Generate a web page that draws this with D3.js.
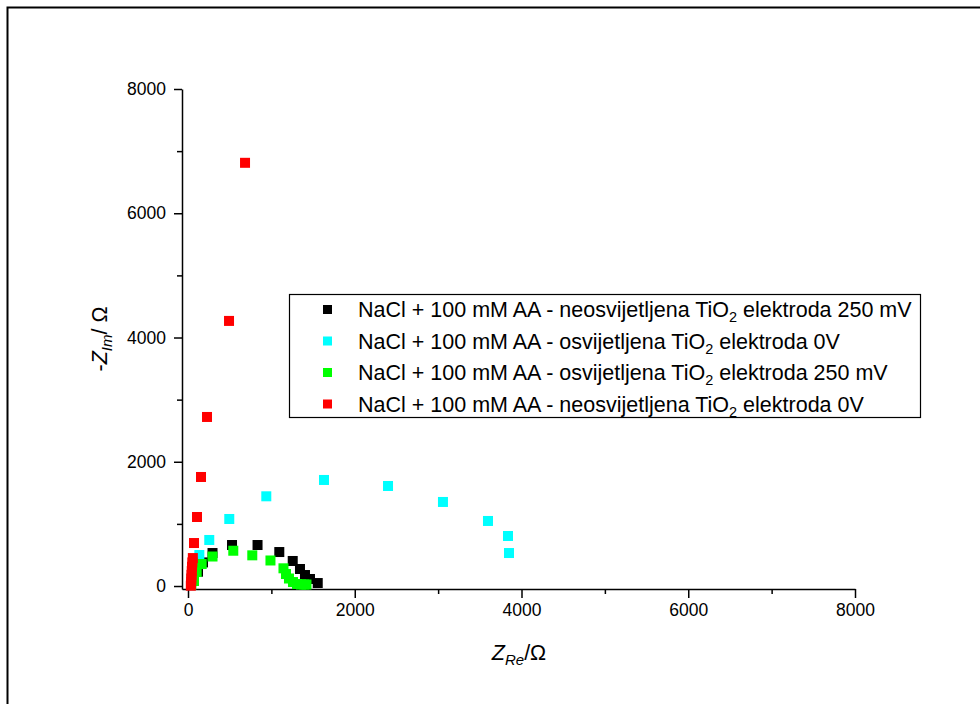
<!DOCTYPE html>
<html><head><meta charset="utf-8">
<script src="https://cdn.jsdelivr.net/npm/d3@7"></script>
<style>body{margin:0;background:#fff}svg{display:block;font-family:Arial,"Liberation Sans",sans-serif}</style>
</head><body>
<svg id="chart" width="980" height="704"></svg>
<script>
// Series data: [Z_Re (Ohm), -Z_Im (Ohm)]
const seriesNames = [
  "NaCl + 100 mM AA - neosvijetljena TiO|2| elektroda 250 mV",
  "NaCl + 100 mM AA - osvijetljena TiO|2| elektroda 0V",
  "NaCl + 100 mM AA - osvijetljena TiO|2| elektroda 250 mV",
  "NaCl + 100 mM AA - neosvijetljena TiO|2| elektroda 0V"
];
const seriesColors = ["#000000", "#00ffff", "#00ff00", "#ff0000"];
const blackData = [[60,90],[120,230],[180,380],[294,531],[528,660],[834,660],[1095,547],[1256,403],[1343,274],[1403,177],[1463,113],[1556,48]];
const cyanData = [[40,120],[80,300],[136,499],[255,741],[495,1079],[939,1444],[1631,1707],[2399,1610],[3058,1353],[3598,1047],[3838,805],[3850,531]];
const greenData = [[40,20],[72,81],[104,225],[164,354],[294,475],[543,568],[771,494],[989,411],[1145,285],[1175,193],[1211,121],[1259,64],[1307,32],[1355,24],[1395,24],[1421,24]];
const redData = [[34,5],[36,30],[38,70],[40,120],[42,180],[45,240],[48,310],[52,380],[58,450],[72,692],[108,1111],[156,1755],[228,2721],[492,4267],[684,6812]];
const allSeries = [blackData, cyanData, greenData, redData];
const majorTicks = [0, 2000, 4000, 6000, 8000];
const minorTicks = [1000, 3000, 5000, 7000];

const svg = d3.select("#chart");
svg.append("rect").attr("x", 0).attr("y", 0).attr("width", 980).attr("height", 704).attr("fill", "#fff");
// outer frame
svg.append("rect").attr("x", 7.5).attr("y", 7.5).attr("width", 1000).attr("height", 1000)
  .attr("fill", "none").attr("stroke", "#000").attr("stroke-width", 2);

const x = d3.scaleLinear().domain([-72, 8000]).range([182, 855]);
const y = d3.scaleLinear().domain([-48, 8000]).range([589, 89]);

svg.append("g").attr("transform", "translate(0,589)")
  .call(d3.axisBottom(x).tickValues(majorTicks).tickSize(9).tickSizeOuter(0).tickPadding(6).tickFormat(d3.format("d")));
svg.append("g").attr("transform", "translate(0,589)")
  .call(d3.axisBottom(x).tickValues(minorTicks).tickSize(5).tickSizeOuter(0).tickFormat(""))
  .select(".domain").remove();
svg.append("g").attr("transform", "translate(182,0)")
  .call(d3.axisLeft(y).tickValues(majorTicks).tickSize(8).tickSizeOuter(0).tickPadding(8).tickFormat(d3.format("d")));
svg.append("g").attr("transform", "translate(182,0)")
  .call(d3.axisLeft(y).tickValues(minorTicks).tickSize(5).tickSizeOuter(0).tickFormat(""))
  .select(".domain").remove();
svg.selectAll(".domain, .tick line").attr("stroke", "#000").attr("stroke-width", 1.5);
svg.selectAll(".tick text").attr("font-size", 17.5).attr("fill", "#000").attr("font-family", "Arial, 'Liberation Sans', sans-serif");

// points
const ms = 10;
allSeries.forEach((data, i) => {
  svg.append("g").selectAll("rect").data(data).join("rect")
    .attr("x", d => x(d[0]) - ms / 2).attr("y", d => y(d[1]) - ms / 2)
    .attr("width", ms).attr("height", ms).attr("fill", seriesColors[i]);
});

// legend
const lg = svg.append("g");
lg.append("rect").attr("x", 289.5).attr("y", 294.5).attr("width", 631).attr("height", 123)
  .attr("fill", "#fff").attr("stroke", "#000").attr("stroke-width", 1.2);
seriesNames.forEach((name, i) => {
  const cy = 309.5 + i * 31.5;
  lg.append("rect").attr("x", 323).attr("y", cy - 4.5).attr("width", 9).attr("height", 9).attr("fill", seriesColors[i]);
  const parts = name.split("|");
  const t = lg.append("text").attr("x", 358).attr("y", cy + 7.5).attr("font-size", 21.5).attr("fill", "#000");
  t.append("tspan").text(parts[0]);
  t.append("tspan").attr("font-size", 14.5).attr("dy", 5).text(parts[1]);
  t.append("tspan").attr("dy", -5).text(parts[2]);
});

// axis titles
const xt = svg.append("text").attr("x", 519).attr("y", 660).attr("text-anchor", "middle").attr("font-size", 21.5).attr("fill", "#000");
xt.append("tspan").attr("font-style", "italic").text("Z");
xt.append("tspan").attr("font-style", "italic").attr("font-size", 15).attr("dy", 5).text("Re");
xt.append("tspan").attr("dy", -5).text("/\u03A9");

const yt = svg.append("text").attr("transform", "translate(107,339) rotate(-90)").attr("text-anchor", "middle").attr("font-size", 21.5).attr("fill", "#000");
yt.append("tspan").text("-");
yt.append("tspan").attr("font-style", "italic").text("Z");
yt.append("tspan").attr("font-style", "italic").attr("font-size", 15).attr("dy", 5).text("Im");
yt.append("tspan").attr("dy", -5).text("/ \u03A9");
</script>
</body></html>
